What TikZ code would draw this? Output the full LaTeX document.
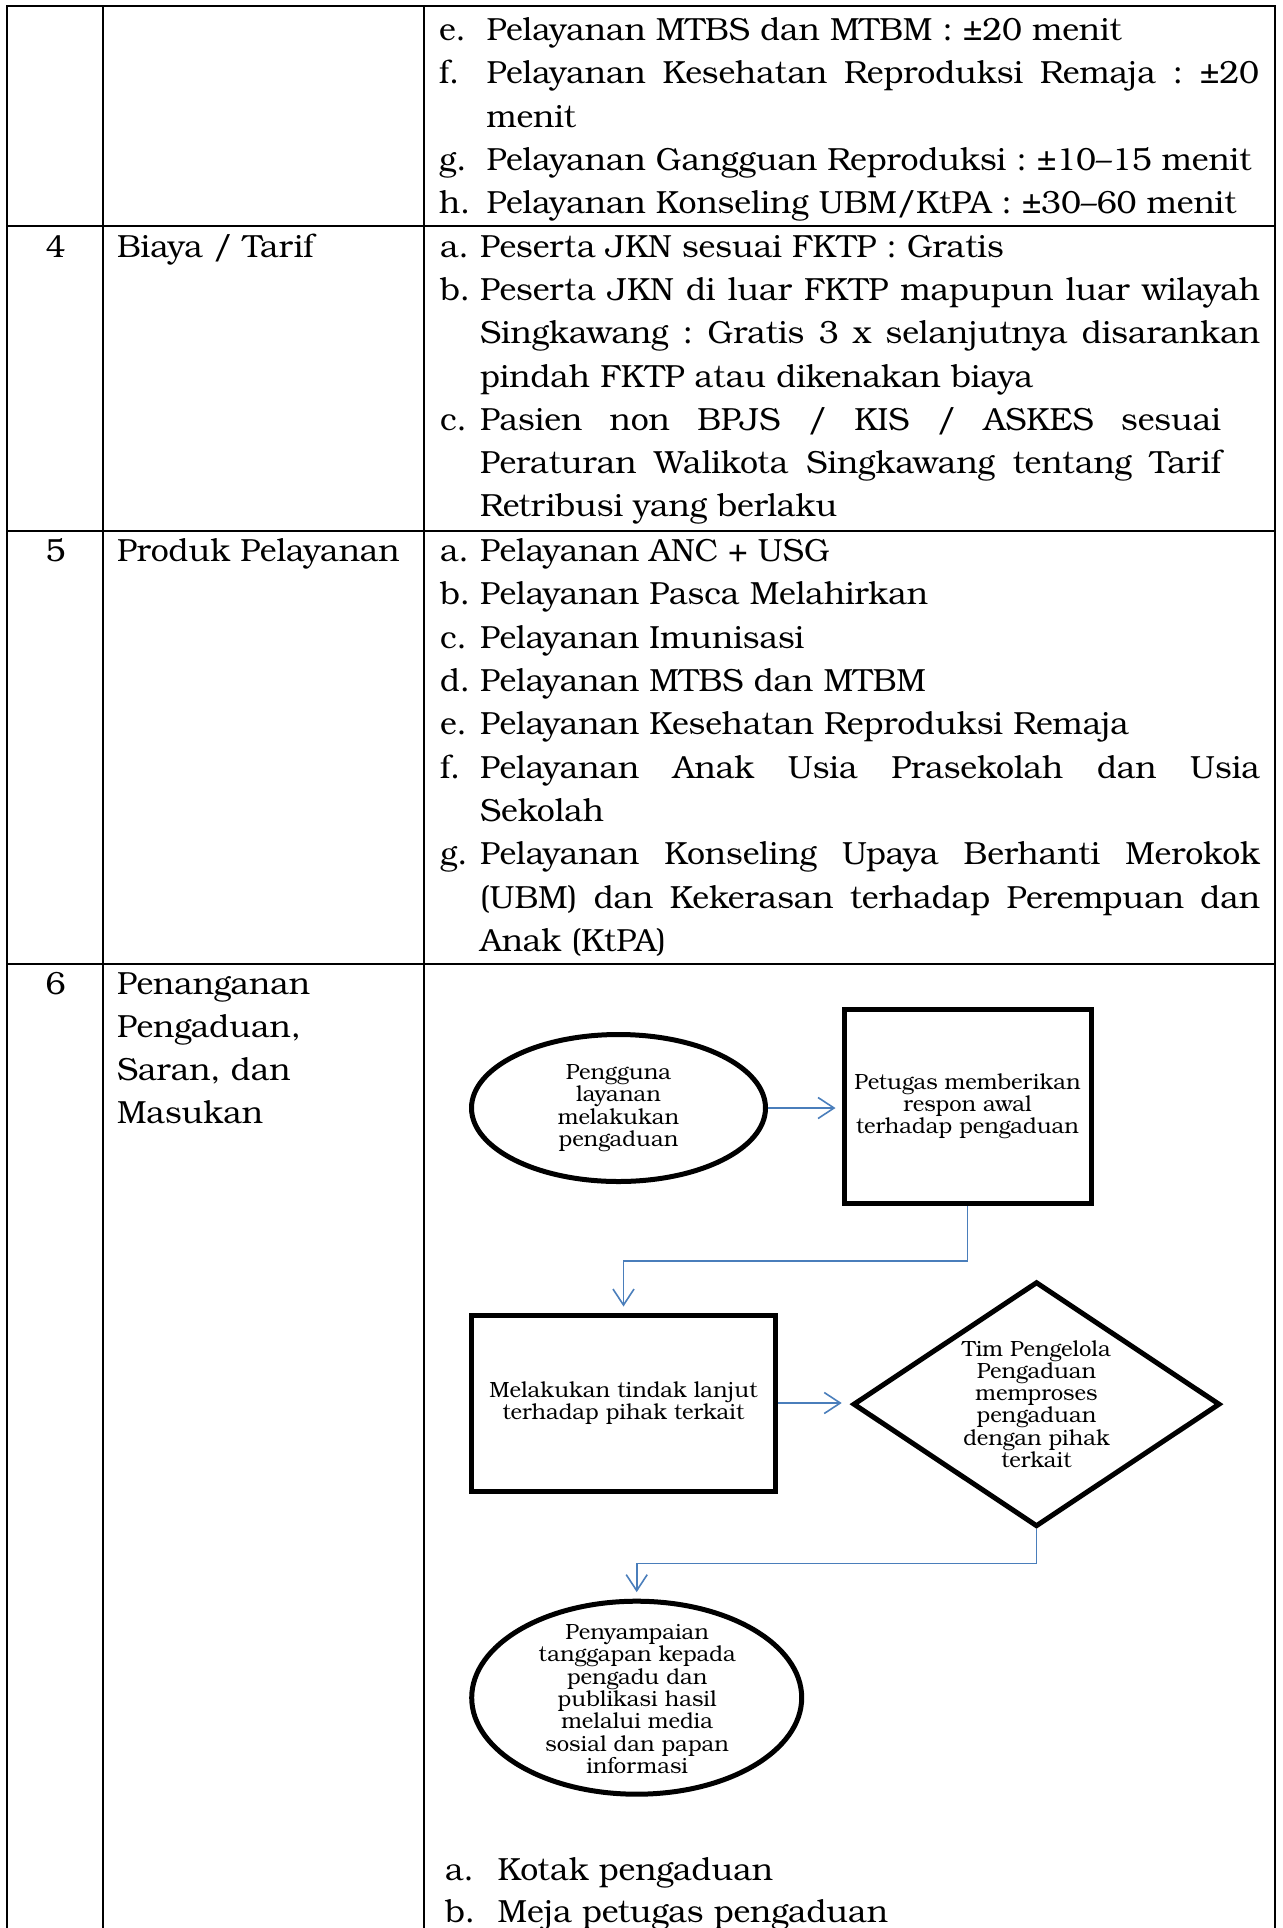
\documentclass[tikz,border=0pt]{standalone}
\usepackage{fontspec}
\setmainfont{TeX Gyre Bonum}
\usetikzlibrary{arrows.meta,shapes.geometric}
\definecolor{linkblue}{RGB}{74,126,187}

\begin{document}
\frenchspacing
\begin{tikzpicture}[x=0.5pt,y=-0.5pt,
  grid/.style={line width=1.25pt, line cap=rect},
  cell/.style={anchor=base west, inner sep=0pt, outer sep=0pt,
    font=\fontsize{16}{21.5}\selectfont},
  numcell/.style={anchor=base, inner sep=0pt, outer sep=0pt,
    font=\fontsize{16}{21.5}\selectfont},
  shapebox/.style={draw, line width=2.5pt, inner sep=0pt, align=center,
    font=\fontsize{11}{11.15}\selectfont},
  flowtext/.style={inner sep=0pt, align=center,
    font=\fontsize{11}{11.15}\selectfont},
  conn/.style={draw=linkblue, line width=0.8pt,
    -{Straight Barb[length=8pt,width=10.5pt]}},
]
\useasboundingbox (0,0) rectangle (1283,1928);

% ---------- table rules ----------
\draw[grid] (7,6) -- (1275,6);
\draw[grid] (7,226) -- (1275,226);
\draw[grid] (7,531) -- (1275,531);
\draw[grid] (7,964) -- (1275,964);
\draw[grid] (7,6) -- (7,1930);
\draw[grid] (103,6) -- (103,1930);
\draw[grid] (424,6) -- (424,1930);
\draw[grid] (1275,6) -- (1275,1930);

% ---------- row 3 (continued) ----------
\node[cell] (l3e) at (439,40.5) {e.};
\node[cell] (t3e) at (486.5,40.5) {Pelayanan MTBS dan MTBM : ±20 menit};
\node[cell] (l3f) at (439,83.8) {f.};
\node[cell] (t3f) at (486.5,83.8) {\makebox[386.25pt][s]{Pelayanan Kesehatan Reproduksi Remaja : ±20}};
\node[cell] (t3f2) at (486.5,127.1) {menit};
\node[cell] (l3g) at (439,170.4) {g.};
\node[cell] (t3g) at (486.5,170.4) {Pelayanan Gangguan Reproduksi : ±10–15 menit};
\node[cell] (l3h) at (439,213.7) {h.};
\node[cell] (t3h) at (486.5,213.7) {Pelayanan Konseling UBM/KtPA : ±30–60 menit};

% ---------- row 4 ----------
\node[numcell] (n4) at (55.5,257.7) {4};
\node[cell] (h4) at (117,257.7) {Biaya / Tarif};
\node[cell] (l4a) at (440,257.7) {a.};
\node[cell] (t4a) at (480,257.7) {Peserta JKN sesuai FKTP : Gratis};
\node[cell] (l4b) at (440,300.8) {b.};
\node[cell] (t4b) at (480,300.8) {\makebox[390pt][s]{Peserta JKN di luar FKTP mapupun luar wilayah}};
\node[cell] (t4b2) at (480,343.9) {\makebox[390pt][s]{Singkawang : Gratis 3 x selanjutnya disarankan}};
\node[cell] (t4b3) at (480,387) {pindah FKTP atau dikenakan biaya};
\node[cell] (l4c) at (440,430.1) {c.};
\node[cell] (t4c) at (480,430.1) {\makebox[370.5pt][s]{Pasien non BPJS / KIS / ASKES sesuai}};
\node[cell] (t4c2) at (480,473.2) {\makebox[370.5pt][s]{Peraturan Walikota Singkawang tentang Tarif}};
\node[cell] (t4c3) at (480,516.3) {Retribusi yang berlaku};

% ---------- row 5 ----------
\node[numcell] (n5) at (55.5,561.6) {5};
\node[cell] (h5) at (117,561.6) {Produk Pelayanan};
\node[cell] (l5a) at (440,561.6) {a.};
\node[cell] (t5a) at (480,561.6) {Pelayanan ANC + USG};
\node[cell] (l5b) at (440,604.9) {b.};
\node[cell] (t5b) at (480,604.9) {Pelayanan Pasca Melahirkan};
\node[cell] (l5c) at (440,648.2) {c.};
\node[cell] (t5c) at (480,648.2) {Pelayanan Imunisasi};
\node[cell] (l5d) at (440,691.5) {d.};
\node[cell] (t5d) at (480,691.5) {Pelayanan MTBS dan MTBM};
\node[cell] (l5e) at (440,734.8) {e.};
\node[cell] (t5e) at (480,734.8) {Pelayanan Kesehatan Reproduksi Remaja};
\node[cell] (l5f) at (440,778.1) {f.};
\node[cell] (t5f) at (480,778.1) {\makebox[390pt][s]{Pelayanan Anak Usia Prasekolah dan Usia}};
\node[cell] (t5f2) at (480,821.4) {Sekolah};
\node[cell] (l5g) at (440,864.7) {g.};
\node[cell] (t5g) at (480,864.7) {\makebox[390pt][s]{Pelayanan Konseling Upaya Berhanti Merokok}};
\node[cell] (t5g2) at (480,908) {\makebox[390pt][s]{(UBM) dan Kekerasan terhadap Perempuan dan}};
\node[cell] (t5g3) at (480,951.3) {Anak (KtPA)};

% ---------- row 6 ----------
\node[numcell] (n6) at (55.5,994.5) {6};
\node[cell] (h6a) at (117,994.5) {Penanganan};
\node[cell] (h6b) at (117,1037.6) {Pengaduan,};
\node[cell] (h6c) at (117,1080.7) {Saran, dan};
\node[cell] (h6d) at (117,1123.8) {Masukan};

% complaint handling flow
\node[shapebox, ellipse, minimum width=147pt, minimum height=73.5pt] (e1) at (618.5,1108)
  {Pengguna\\layanan\\melakukan\\pengaduan};
\node[shapebox, rectangle, minimum width=123.5pt, minimum height=97.25pt] (r1) at (967.5,1106.25)
  {Petugas memberikan\\respon awal\\terhadap pengaduan};
\node[shapebox, rectangle, minimum width=152pt, minimum height=88pt] (r2) at (623.5,1403)
  {Melakukan tindak lanjut\\terhadap pihak terkait};
\node[shapebox, diamond, minimum width=183.5pt, minimum height=122.5pt] (d1) at (1036.5,1404.2) {};
\node[flowtext] (d1t) at (1036.5,1404)
  {Tim Pengelola\\Pengaduan\\memproses\\pengaduan\\dengan pihak\\terkait};
\node[shapebox, ellipse, minimum width=165pt, minimum height=96.5pt] (e2) at (636.7,1697.7) {};
\node[flowtext] (e2t) at (637.2,1699)
  {Penyampaian\\tanggapan kepada\\pengadu dan\\publikasi hasil\\melalui media\\sosial dan papan\\informasi};

\coordinate (j1) at (967.5,1260.7);
\coordinate (j2) at (1036.5,1563.3);

\draw[conn, shorten >=3pt] (e1.east) -- (e1.east -| r1.west);
\draw[conn, shorten >=3pt] (r1.south) -- (j1) -| (r2.north);
\draw[conn, shorten >=4.4pt] (r2.east) -- (r2.east -| d1.west);
\draw[conn, shorten >=3.3pt] (d1.south) -- (j2) -| (e2.north);

% channels
\node[cell] (l6a) at (445,1880) {a.};
\node[cell] (t6a) at (497.6,1880) {Kotak pengaduan};
\node[cell] (l6b) at (445,1922.7) {b.};
\node[cell] (t6b) at (497.6,1922.7) {Meja petugas pengaduan};
\end{tikzpicture}
\end{document}
